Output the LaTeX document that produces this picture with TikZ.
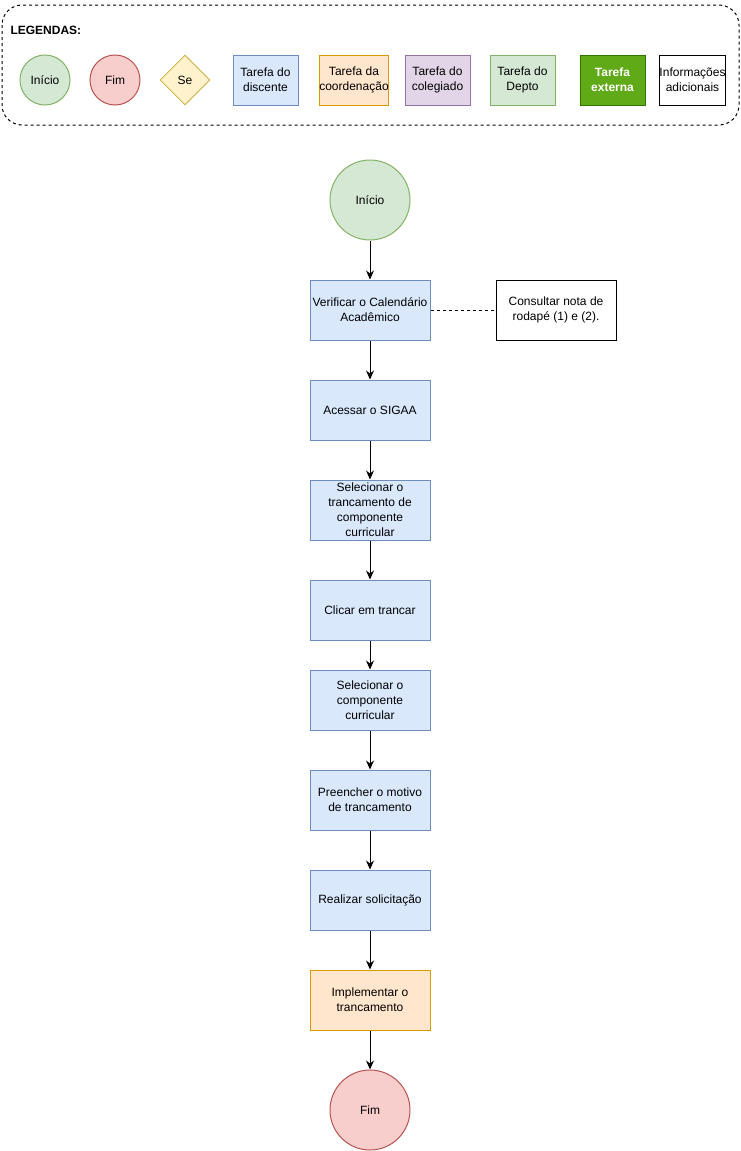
\documentclass[tikz,border=0pt]{standalone}
\usepackage{fontspec}
\setmainfont{Liberation Sans}
\usetikzlibrary{shapes.geometric,arrows.meta}
\definecolor{startfill}{HTML}{D5E8D4}
\definecolor{startline}{HTML}{82B366}
\definecolor{endfill}{HTML}{F8CECC}
\definecolor{endline}{HTML}{B85450}
\definecolor{iffill}{HTML}{FFF2CC}
\definecolor{ifline}{HTML}{D6B656}
\definecolor{stufill}{HTML}{DAE8FC}
\definecolor{stuline}{HTML}{6C8EBF}
\definecolor{cordfill}{HTML}{FFE6CC}
\definecolor{cordline}{HTML}{D79B00}
\definecolor{colfill}{HTML}{E1D5E7}
\definecolor{colline}{HTML}{9673A6}
\definecolor{extfill}{HTML}{60A917}
\definecolor{extline}{HTML}{2D7600}
\begin{document}
\begin{tikzpicture}[x=1pt,y=-1pt,line width=1pt,
  every node/.style={font=\fontsize{12}{15}\selectfont,align=center,inner sep=0pt},
  start node/.style={circle,draw=startline,fill=startfill,minimum size=#1},
  end node/.style={circle,draw=endline,fill=endfill,minimum size=#1},
  if node/.style={diamond,draw=ifline,fill=iffill,minimum width=50pt,minimum height=50pt},
  leg node/.style={rectangle,draw=#1line,fill=#1fill,minimum width=65pt,minimum height=50pt},
  task node/.style={rectangle,draw=stuline,fill=stufill,minimum width=120pt,minimum height=60pt},
  note node/.style={rectangle,draw=black,fill=white,minimum width=#1,minimum height=50pt}]

  \useasboundingbox (0,0) rectangle (741,1151);

  % legenda
  \draw[dash pattern=on 3pt off 3pt,rounded corners=20pt] (2,5) rectangle (739,125);
  \node[anchor=west,font=\fontsize{12}{15}\selectfont\bfseries] at (10,30) (leg) {LEGENDAS:};
  \node[start node=50pt] at (45,80) (li) {Início};
  \node[end node=50pt] at (115,80) (lf) {Fim};
  \node[if node] at (185,80) (ls) {Se};
  \node[leg node=stu] at (265.5,80) (ld) {Tarefa do\\discente};
  \node[leg node=cord] at (354,80) (lc) {Tarefa da\\coordenação};
  \node[leg node=col] at (437.5,80) (lg) {Tarefa do\\colegiado};
  \node[leg node=start] at (522.5,80) (lp) {Tarefa do\\Depto};
  \node[leg node=ext,text=white,font=\fontsize{12}{15}\selectfont\bfseries] at (612.5,80) (le) {Tarefa\\externa};
  \node[note node=65pt] at (692.5,80) (la) {Informações\\adicionais};

  % fluxo
  \node[start node=80pt] at (370,200) (0) {Início};
  \node[task node] at (370,310) (1) {Verificar o Calendário\\Acadêmico};
  \node[note node=120pt,minimum height=60pt] at (556,310) (n1) {Consultar nota de\\rodapé (1) e (2).};
  \node[task node] at (370,410) (2) {Acessar o SIGAA};
  \node[task node] at (370,510) (3) {Selecionar o\\trancamento de\\componente\\curricular};
  \node[task node] at (370,610) (4) {Clicar em trancar};
  \node[task node] at (370,700) (5) {Selecionar o\\componente\\curricular};
  \node[task node] at (370,800) (6) {Preencher o motivo\\de trancamento};
  \node[task node] at (370,900) (7) {Realizar solicitação};
  \node[task node,draw=cordline,fill=cordfill] at (370,1000) (8) {Implementar o\\trancamento};
  \node[end node=80pt] at (370,1110) (9) {Fim};

  \path[-{Stealth[length=9pt,width=8pt]}]
  (0) edge (1)
  (1) edge (2)
  (2) edge (3)
  (3) edge (4)
  (4) edge (5)
  (5) edge (6)
  (6) edge (7)
  (7) edge (8)
  (8) edge (9);
  \path[dash pattern=on 3pt off 3pt] (1) edge (n1);
\end{tikzpicture}
\end{document}
